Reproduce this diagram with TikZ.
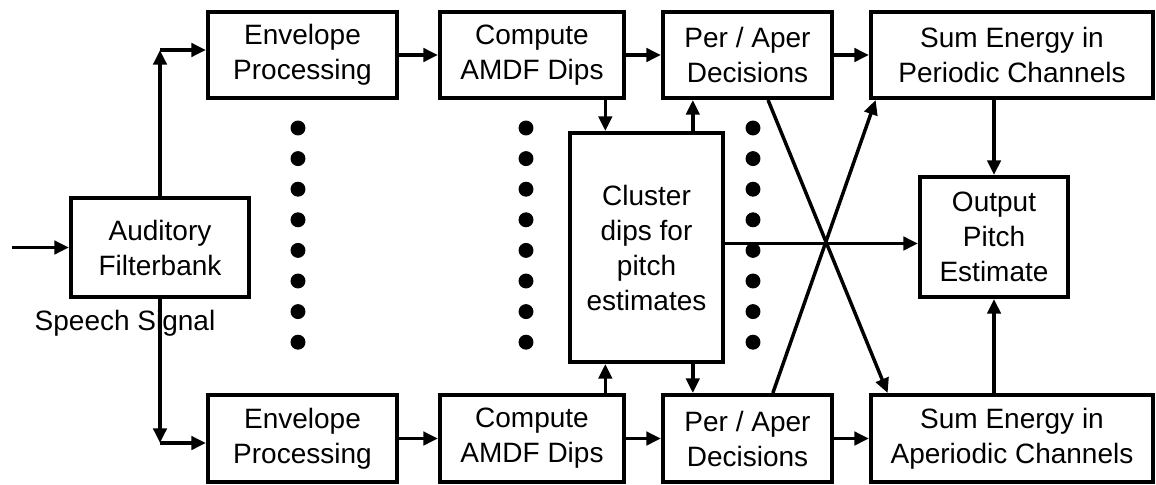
\documentclass[tikz,border=0pt]{standalone}
\usepackage{fontspec}
\setmainfont{Liberation Sans}
\usetikzlibrary{arrows.meta,positioning}
\tikzset{>={Triangle[length=11pt,width=10pt]}}
\tikzset{blk/.style={draw, line width=3pt, align=center, inner sep=0pt, font=\fontsize{21}{26.25}\selectfont},
  wire/.style={line width=2.6pt}}

\begin{document}
\begin{tikzpicture}[x=0.75pt,y=-0.75pt]
\useasboundingbox (0,0) rectangle (1156,485);
%%%% boxes
\node[blk, minimum width=133.5pt, minimum height=74.25pt] (filt) at (160,247.5) {Auditory\\Filterbank};
\node[blk, minimum width=141.75pt, minimum height=64.5pt] (env1) at (302.5,55) {Envelope\\Processing};
\node[blk, minimum width=138pt, minimum height=64.5pt] (amdf1) at (532,55) {Compute\\AMDF Dips};
\node[blk, minimum width=126.75pt, minimum height=64.5pt] (dec1) at (747.5,55) {Per / Aper\\Decisions};
\node[blk, minimum width=211.5pt, minimum height=64.5pt] (sump) at (1012,55) {Sum Energy in\\Periodic Channels};
\node[blk, minimum width=141.75pt, minimum height=65.25pt] (env2) at (302.5,438.5) {Envelope\\Processing};
\node[blk, minimum width=138pt, minimum height=65.25pt] (amdf2) at (532,438.5) {Compute\\AMDF Dips};
\node[blk, minimum width=126.75pt, minimum height=65.25pt] (dec2) at (747.5,438.5) {Per / Aper\\Decisions};
\node[blk, minimum width=211.5pt, minimum height=65.25pt] (sumap) at (1012,438.5) {Sum Energy in\\Aperiodic Channels};
\node[blk, minimum width=114.75pt, minimum height=171.75pt] (clus) at (646.5,247.5) {Cluster\\dips for\\pitch\\estimates};
\node[blk, minimum width=111pt, minimum height=90pt] (out) at (994,237) {Output\\Pitch\\Estimate};
\node[font=\fontsize{21}{26.25}\selectfont, inner sep=0pt] (sig) at (125,323) {Speech Signal};
%%%% dots
\foreach \x in {298,526,753}
  \foreach \i in {0,...,7}
    \fill (\x,128+30.6*\i) circle[radius=5.6pt];
%%%% input and split
\coordinate (in) at (12,247.5);
\coordinate (up) at (160,50);
\coordinate (dn) at (160,443);
\draw[wire,->] (in) -- (filt.west);
\draw[wire,->] (filt.north) -- (up);
\draw[wire,->] (up) -- (up -| env1.west);
\draw[wire,->] (filt.south) -- (dn);
\draw[wire,->] (dn) -- (dn -| env2.west);
%%%% rows
\draw[wire,->] (env1.east) -- (amdf1.west);
\draw[wire,->] (amdf1.east) -- (dec1.west);
\draw[wire,->] (dec1.east) -- (sump.west);
\draw[wire,->] (env2.east) -- (amdf2.west);
\draw[wire,->] (amdf2.east) -- (dec2.west);
\draw[wire,->] (dec2.east) -- (sumap.west);
%%%% cluster
\draw[wire,->] ([xshift=55pt]amdf1.south) -- ([xshift=55pt]amdf1.south |- clus.north);
\draw[wire,->] ([xshift=-41pt]dec1.south |- clus.north) -- ([xshift=-41pt]dec1.south);
\draw[wire,->] ([xshift=55pt]amdf2.north) -- ([xshift=55pt]amdf2.north |- clus.south);
\draw[wire,->] ([xshift=-41pt]dec2.north |- clus.south) -- ([xshift=-41pt]dec2.north);
\draw[wire,->] ([yshift=3pt]clus.east) -- ([yshift=3pt]clus.east -| out.west);
%%%% crossing and output
\draw[wire,->] ([xshift=15.4pt]dec1.south) -- ([xshift=14pt]sumap.north west);
\draw[wire,->] ([xshift=19pt]dec2.north) -- ([xshift=5pt]sump.south west);
\draw[wire,->] (out.north |- sump.south) -- (out.north);
\draw[wire,->] (out.south |- sumap.north) -- (out.south);
\end{tikzpicture}
\end{document}
